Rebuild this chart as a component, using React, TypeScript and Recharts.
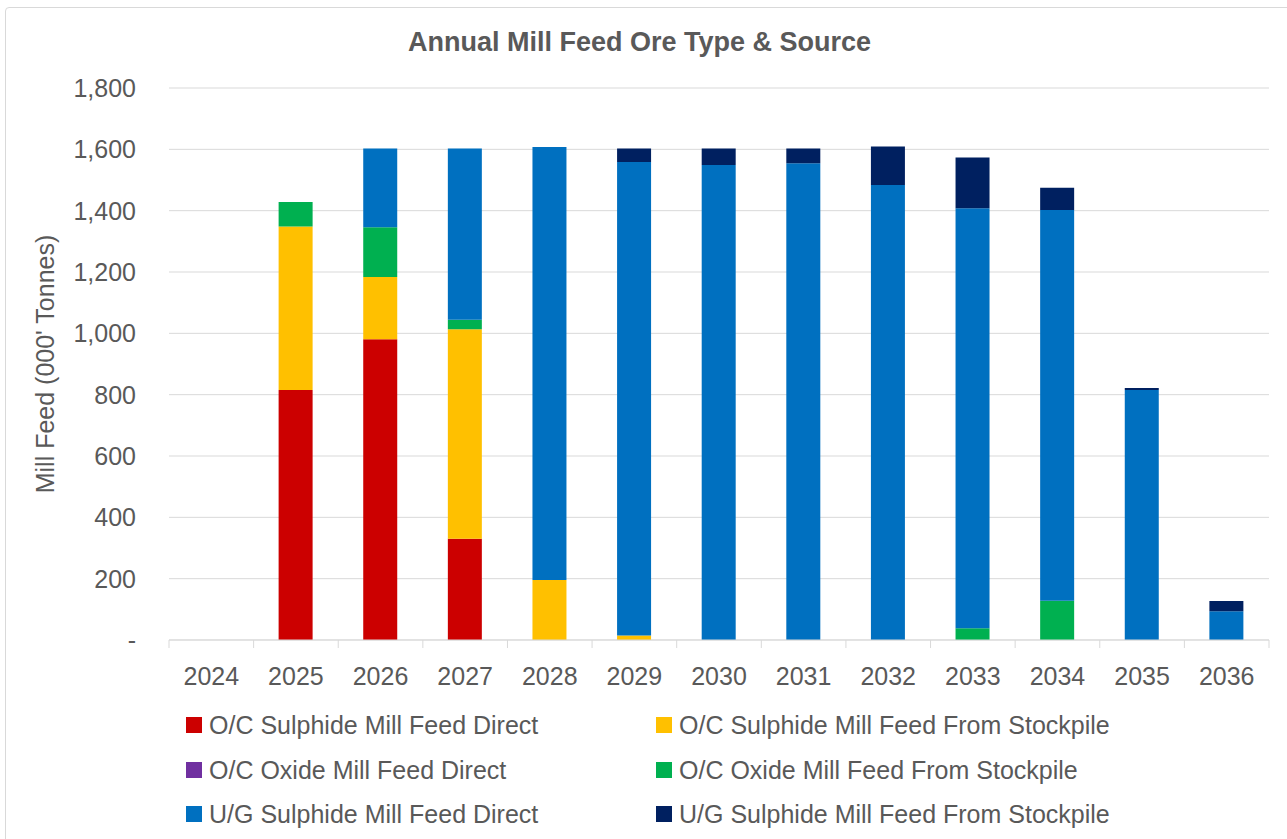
import React from 'react';
import { BarChart, Bar, XAxis, YAxis, CartesianGrid, Legend } from 'recharts';

const categories = ['2024', '2025', '2026', '2027', '2028', '2029', '2030', '2031', '2032', '2033', '2034', '2035', '2036'];
const ocSulphideDirect = [0, 815, 981, 330, 0, 0, 0, 0, 0, 0, 0, 0, 0];
const ocSulphideStockpile = [0, 533, 203, 683, 196, 15, 0, 0, 0, 0, 0, 0, 0];
const ocOxideDirect = [0, 0, 0, 0, 0, 0, 0, 0, 0, 0, 0, 0, 0];
const ocOxideStockpile = [0, 80, 162, 31, 0, 0, 0, 0, 0, 38, 128, 0, 0];
const ugSulphideDirect = [0, 0, 257, 559, 1412, 1544, 1549, 1555, 1484, 1370, 1274, 815, 94];
const ugSulphideStockpile = [0, 0, 0, 0, 0, 44, 54, 48, 125, 165, 73, 7, 33];
const yTicks = [0, 200, 400, 600, 800, 1000, 1200, 1400, 1600, 1800];

const seriesDefs = [
  { key: 'ocSD', name: 'O/C Sulphide Mill Feed Direct', color: '#CC0000', values: ocSulphideDirect },
  { key: 'ocSS', name: 'O/C Sulphide Mill Feed From Stockpile', color: '#FFC000', values: ocSulphideStockpile },
  { key: 'ocOD', name: 'O/C Oxide Mill Feed Direct', color: '#7030A0', values: ocOxideDirect },
  { key: 'ocOS', name: 'O/C Oxide Mill Feed From Stockpile', color: '#00B050', values: ocOxideStockpile },
  { key: 'ugSD', name: 'U/G Sulphide Mill Feed Direct', color: '#0070C0', values: ugSulphideDirect },
  { key: 'ugSS', name: 'U/G Sulphide Mill Feed From Stockpile', color: '#002060', values: ugSulphideStockpile },
];

const data = categories.map((c, i) => {
  const row: any = { year: c };
  seriesDefs.forEach((s) => { row[s.key] = s.values[i]; });
  return row;
});

const FONT = '"Liberation Sans", Arial, sans-serif';
const TEXT = '#595959';
const GRID = '#d9d9d9';
const W = 1287;
const H = 839;
const PLOT_LEFT = 169;
const PLOT_RIGHT = 1269;
const BAND = (PLOT_RIGHT - PLOT_LEFT) / categories.length;

const XTick = (props: any) => {
  const { x, y, payload, index } = props;
  return (
    <g>
      <line x1={x - BAND / 2} x2={x - BAND / 2} y1={y} y2={y + 8} stroke={GRID} />
      {index === categories.length - 1 && (
        <line x1={x + BAND / 2} x2={x + BAND / 2} y1={y} y2={y + 8} stroke={GRID} />
      )}
      <text x={x} y={y + 45} textAnchor="middle" fill={TEXT} fontSize={25} fontFamily={FONT}>
        {payload.value}
      </text>
    </g>
  );
};

const YTick = (props: any) => {
  const { x, y, payload } = props;
  const v = payload.value;
  const label = v === 0 ? '-' : v.toLocaleString('en-US');
  return (
    <text x={x - 33} y={y} textAnchor="end" dominantBaseline="central" fill={TEXT} fontSize={25} fontFamily={FONT}>
      {label}
    </text>
  );
};

const YLabel = () => (
  <text
    transform="translate(45,364) rotate(-90)"
    textAnchor="middle"
    dominantBaseline="central"
    fill={TEXT}
    fontSize={25}
    fontFamily={FONT}
  >
    Mill Feed (000' Tonnes)
  </text>
);

const LegendContent = () => {
  const rowCenters = [22, 67, 111];
  const colLeft = [186, 656];
  return (
    <div style={{ position: 'relative', width: W, height: 133 }}>
      {seriesDefs.map((s, i) => {
        const row = Math.floor(i / 2);
        const col = i % 2;
        return (
          <div
            key={s.key}
            style={{
              position: 'absolute',
              left: colLeft[col],
              top: rowCenters[row] - 16,
              height: 32,
              display: 'flex',
              alignItems: 'center',
              whiteSpace: 'nowrap',
            }}
          >
            <span style={{ display: 'inline-block', width: 16, height: 16, background: s.color, marginRight: 7 }} />
            <span style={{ fontFamily: FONT, fontSize: 25, color: TEXT }}>{s.name}</span>
          </div>
        );
      })}
    </div>
  );
};

export default function App() {
  return (
    <div style={{ position: 'absolute', left: 0, top: 0, width: W, height: H, background: '#fff', overflow: 'hidden' }}>
      <div
        style={{
          position: 'absolute',
          left: 5,
          top: 7,
          width: 1400,
          height: 1000,
          border: `1px solid ${GRID}`,
          borderRadius: 4,
          boxSizing: 'border-box',
        }}
      />
      <div
        style={{
          position: 'absolute',
          left: 0,
          top: 26,
          width: W - 8,
          textAlign: 'center',
          fontFamily: FONT,
          fontWeight: 'bold',
          fontSize: 27,
          color: TEXT,
          lineHeight: '32px',
        }}
      >
        Annual Mill Feed Ore Type &amp; Source
      </div>
      <BarChart
        width={W}
        height={H}
        data={data}
        margin={{ top: 88, right: W - PLOT_RIGHT, bottom: 3, left: 0 }}
        barSize={34}
        style={{ position: 'absolute', left: 0, top: 0 }}
      >
        <CartesianGrid horizontal vertical={false} stroke={GRID} strokeWidth={1} />
        <XAxis
          dataKey="year"
          stroke={GRID}
          tickLine={false}
          tickSize={0}
          tickMargin={0}
          height={63}
          tick={<XTick />}
          interval={0}
        />
        <YAxis
          domain={[0, 1800]}
          ticks={yTicks}
          width={PLOT_LEFT}
          axisLine={false}
          tickLine={false}
          tickSize={0}
          tickMargin={0}
          tick={<YTick />}
          label={<YLabel />}
          interval={0}
        />
        <Legend verticalAlign="bottom" align="left" content={<LegendContent />} wrapperStyle={{ left: 0, width: W, height: 133 }} />
        {seriesDefs.map((s) => (
          <Bar key={s.key} dataKey={s.key} name={s.name} stackId="a" fill={s.color} isAnimationActive={false} />
        ))}
      </BarChart>
    </div>
  );
}
